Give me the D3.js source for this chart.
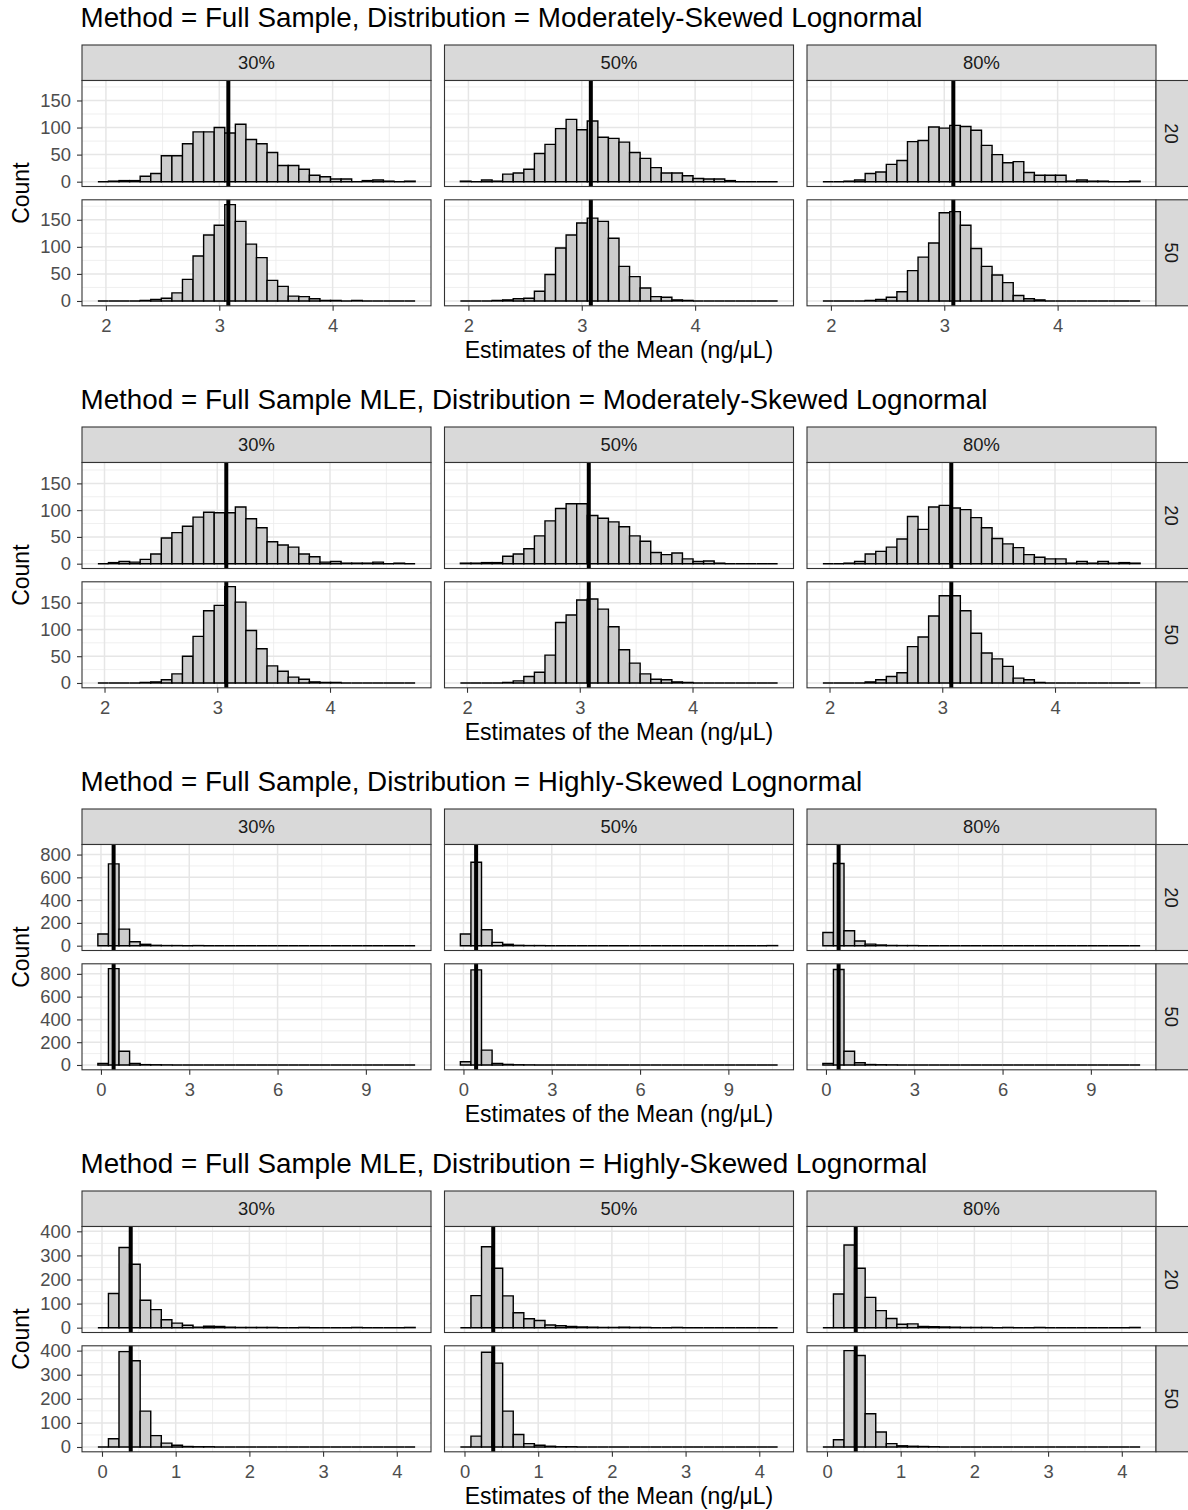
<!DOCTYPE html>
<html>
<head>
<meta charset="utf-8">
<script src="https://cdn.jsdelivr.net/npm/d3@7"></script>
<style>
body { margin: 0; background: #fff; }
text { font-family: "Liberation Sans", Arial, Helvetica, sans-serif; }
</style>
</head>
<body>
<script>
//facet labels
var colLabels = ["30%", "50%", "80%"];
var rowLabels = ["20", "50"];
var sectionTitles = [
    "Method = Full Sample, Distribution = Moderately-Skewed Lognormal",
    "Method = Full Sample MLE, Distribution = Moderately-Skewed Lognormal",
    "Method = Full Sample, Distribution = Highly-Skewed Lognormal",
    "Method = Full Sample MLE, Distribution = Highly-Skewed Lognormal"
];
var xTitle = "Estimates of the Mean (ng/\u03BCL)";
var yTitle = "Count";

//histogram bins (30 per panel): left edge of first bin and bin width, per section
var binStart = [1.929, 1.941, -0.105, -0.056];
var binWidth = [0.0933, 0.0938, 0.3593, 0.1435];
//true mean marked by the vertical line
var meanLine = [3.08, 3.08, 0.43, 0.39];

//tick labels
var xTicks = [[2, 3, 4], [2, 3, 4], [0, 3, 6, 9], [0, 1, 2, 3, 4]];
var yTicks = [[0, 50, 100, 150], [0, 50, 100, 150], [0, 200, 400, 600, 800], [0, 100, 200, 300, 400]];

//counts[row][col], rows = 20 / 50, cols = 30% / 50% / 80%
var fullModerate = [
    [
        [0,1,2,2,10,15,48,48,70,92,92,100,90,106,78,70,54,30,30,23,12,9,5,5,0,2,3,1,0,1],
        [1,0,3,1,14,16,23,52,69,98,115,96,112,82,80,73,54,43,26,16,16,11,6,5,5,2,0,0,0,0],
        [0,0,1,3,15,18,32,39,74,76,101,99,104,102,95,67,50,35,37,17,12,12,12,1,3,1,1,0,0,1]
    ],
    [
        [0,0,0,0,1,3,5,15,40,83,122,140,178,147,105,80,38,27,9,8,4,1,1,0,1,0,0,0,0,0],
        [0,0,0,1,2,4,5,18,49,98,122,144,153,147,116,64,45,24,8,7,2,1,0,0,0,0,0,0,0,0],
        [0,0,0,0,1,3,7,17,56,81,107,163,165,140,97,64,48,34,10,4,2,0,0,0,0,0,0,0,0,0]
    ]
];
var mleModerate = [
    [
        [0,2,4,3,8,18,48,58,70,87,96,95,95,106,84,67,41,35,31,18,13,3,4,1,1,1,3,0,1,0],
        [1,1,2,2,14,18,28,52,80,103,112,112,90,85,78,69,52,42,21,17,20,9,4,5,1,0,0,0,0,0],
        [0,0,1,4,18,23,31,46,88,64,106,109,104,101,86,67,47,37,30,17,12,9,9,1,4,1,4,1,2,1]
    ],
    [
        [0,0,0,0,1,2,6,17,50,87,135,145,180,151,98,64,32,22,11,7,2,1,1,0,0,0,0,0,0,0],
        [0,0,0,0,1,4,12,20,52,113,127,155,157,138,105,62,37,17,7,6,2,1,0,0,0,0,0,0,0,0],
        [0,0,0,0,2,6,12,19,68,86,125,163,163,135,93,56,45,31,9,6,1,0,0,0,0,0,0,0,0,0]
    ]
];
var fullHighly = [
    [
        [102,718,145,35,12,3,1,1,0,1,0,0,0,0,0,0,0,0,0,0,0,0,0,0,0,0,0,0,0,0],
        [102,733,140,29,12,3,1,1,0,0,0,0,0,0,0,0,0,0,0,0,0,0,0,0,0,0,0,0,0,1],
        [116,721,131,41,14,6,2,1,1,0,0,0,0,0,0,0,0,0,0,0,0,0,0,0,0,0,0,0,0,0]
    ],
    [
        [14,846,121,14,3,2,1,0,0,0,0,0,0,0,0,0,0,0,0,0,0,0,0,0,0,0,0,0,0,0],
        [29,835,130,14,5,2,1,0,0,0,0,0,0,0,0,0,0,0,0,0,0,0,0,0,0,0,0,0,0,0],
        [14,838,121,20,4,2,1,0,0,0,0,0,0,0,0,0,0,0,0,0,0,0,0,0,0,0,0,0,0,0]
    ]
];
var mleHighly = [
    [
        [0,142,333,263,114,75,33,19,10,2,6,5,2,1,1,1,1,0,0,1,0,0,0,0,1,0,0,0,0,1],
        [0,133,336,247,132,62,37,30,11,8,5,3,2,1,1,2,1,1,0,0,1,0,0,0,0,0,0,0,0,0],
        [0,140,343,247,126,71,38,14,16,5,4,3,2,1,1,1,0,1,0,0,1,0,0,0,0,0,0,0,0,1]
    ],
    [
        [0,34,396,358,149,47,16,7,2,1,1,0,0,0,0,0,0,0,0,0,0,0,0,0,0,0,0,0,0,0],
        [0,45,393,348,149,52,14,7,3,1,1,0,0,0,0,0,0,0,0,0,0,0,0,0,0,0,0,0,0,0],
        [0,30,400,380,138,62,14,5,3,2,1,0,0,0,0,0,0,0,0,0,0,0,0,0,0,0,0,0,0,0]
    ]
];
var allCounts = [fullModerate, mleModerate, fullHighly, mleHighly];

//layout
var width = 1188, height = 1510;
var panelX = [82, 444.5, 807];
var panelW = 349, panelH = 106, stripH = 35.5, rowGap = 13.3;
var sectionTop = [45, 427, 809, 1191];

var svg = d3.select("body")
    .append("svg")
    .attr("width", width)
    .attr("height", height);

//minor breaks half way between majors, inside the domain
function minorBreaks(ticks, domain){
    var step = ticks[1] - ticks[0];
    var out = [];
    for (var v = ticks[0] - step / 2; v <= domain[1]; v += step){
        if (v >= domain[0]) out.push(v);
    }
    return out;
}

var fmt = d3.format("~g");

allCounts.forEach(function(counts, k){
    var S = sectionTop[k];
    var lo = binStart[k], hi = binStart[k] + 30 * binWidth[k];
    var pad = 0.05 * (hi - lo);
    var x = d3.scaleLinear().domain([lo - pad, hi + pad]).range([0, panelW]);
    var ymax = d3.max(counts, function(r){ return d3.max(r, function(c){ return d3.max(c); }); });
    var y = d3.scaleLinear().domain([-0.05 * ymax, 1.05 * ymax]).range([panelH, 0]);
    var xMinor = minorBreaks(xTicks[k], x.domain());
    var yMinor = minorBreaks(yTicks[k], y.domain());

    //section title
    svg.append("text")
        .attr("x", 80.5)
        .attr("y", S - 18)
        .style("font-size", "27.8px")
        .style("fill", "#000")
        .text(sectionTitles[k]);

    //column strips
    colLabels.forEach(function(lab, c){
        svg.append("rect")
            .attr("x", panelX[c]).attr("y", S)
            .attr("width", panelW).attr("height", stripH)
            .style("fill", "#d9d9d9").style("stroke", "#333").style("stroke-width", 1.1);
        svg.append("text")
            .attr("x", panelX[c] + panelW / 2)
            .attr("y", S + stripH / 2)
            .attr("dy", "0.35em")
            .attr("text-anchor", "middle")
            .style("font-size", "18.4px")
            .style("fill", "#1a1a1a")
            .text(lab);
    });

    for (var r = 0; r < 2; r++){
        var py = S + stripH + r * (panelH + rowGap);
        for (var c = 0; c < 3; c++){
            var g = svg.append("g").attr("transform", "translate(" + panelX[c] + "," + py + ")");
            g.append("rect").attr("width", panelW).attr("height", panelH).style("fill", "#fff");

            //grid
            g.selectAll(".xminor").data(xMinor).enter().append("line")
                .attr("x1", x).attr("x2", x).attr("y1", 0).attr("y2", panelH)
                .style("stroke", "#ebebeb").style("stroke-width", 0.8);
            g.selectAll(".yminor").data(yMinor).enter().append("line")
                .attr("x1", 0).attr("x2", panelW).attr("y1", y).attr("y2", y)
                .style("stroke", "#ebebeb").style("stroke-width", 0.8);
            g.selectAll(".xmajor").data(xTicks[k]).enter().append("line")
                .attr("x1", x).attr("x2", x).attr("y1", 0).attr("y2", panelH)
                .style("stroke", "#e6e6e6").style("stroke-width", 1.5);
            g.selectAll(".ymajor").data(yTicks[k]).enter().append("line")
                .attr("x1", 0).attr("x2", panelW).attr("y1", y).attr("y2", y)
                .style("stroke", "#e6e6e6").style("stroke-width", 1.5);

            //bars (path so empty bins still show as a line on the baseline)
            g.selectAll(".bar").data(counts[r][c]).enter().append("path")
                .attr("d", function(d, i){
                    var x0 = x(lo + i * binWidth[k]), x1 = x(lo + (i + 1) * binWidth[k]);
                    var y0 = y(0), y1 = y(d);
                    return "M" + x0 + "," + y0 + "V" + y1 + "H" + x1 + "V" + y0 + "Z";
                })
                .style("fill", "#cccccc")
                .style("stroke", "#000")
                .style("stroke-width", 1.4);

            //mean line
            g.append("line")
                .attr("x1", x(meanLine[k])).attr("x2", x(meanLine[k]))
                .attr("y1", 0).attr("y2", panelH)
                .style("stroke", "#000").style("stroke-width", 4);

            g.append("rect").attr("width", panelW).attr("height", panelH)
                .style("fill", "none").style("stroke", "#333").style("stroke-width", 1.1);

            if (c == 0){
                var ya = g.append("g").call(d3.axisLeft(y).tickValues(yTicks[k]).tickFormat(fmt).tickSize(5).tickPadding(6));
                ya.select(".domain").remove();
                ya.selectAll("line").style("stroke", "#333").style("stroke-width", 1.1);
                ya.selectAll("text").style("font-size", "18.4px").style("fill", "#4d4d4d")
                    .style("font-family", "'Liberation Sans', Arial, sans-serif");
            }
            if (r == 1){
                var xa = g.append("g").attr("transform", "translate(0," + panelH + ")")
                    .call(d3.axisBottom(x).tickValues(xTicks[k]).tickFormat(fmt).tickSize(5).tickPadding(8));
                xa.select(".domain").remove();
                xa.selectAll("line").style("stroke", "#333").style("stroke-width", 1.1);
                xa.selectAll("text").style("font-size", "18.4px").style("fill", "#4d4d4d")
                    .style("font-family", "'Liberation Sans', Arial, sans-serif");
            }
        }
        //row strip on the right
        svg.append("rect")
            .attr("x", panelX[2] + panelW).attr("y", py)
            .attr("width", stripH).attr("height", panelH)
            .style("fill", "#d9d9d9").style("stroke", "#333").style("stroke-width", 1.1);
        svg.append("text")
            .attr("transform", "translate(" + (panelX[2] + panelW + 15) + "," + (py + panelH / 2) + ") rotate(90)")
            .attr("dy", "0.35em")
            .attr("text-anchor", "middle")
            .style("font-size", "18.4px")
            .style("fill", "#1a1a1a")
            .text(rowLabels[r]);
    }

    //axis titles
    svg.append("text")
        .attr("transform", "translate(29," + (S + stripH + panelH + rowGap / 2) + ") rotate(-90)")
        .attr("text-anchor", "middle")
        .style("font-size", "23px")
        .style("fill", "#000")
        .text(yTitle);
    svg.append("text")
        .attr("x", (panelX[0] + panelX[2] + panelW) / 2)
        .attr("y", S + stripH + 2 * panelH + rowGap + 52)
        .attr("text-anchor", "middle")
        .style("font-size", "23px")
        .style("fill", "#000")
        .text(xTitle);
});
</script>
</body>
</html>
